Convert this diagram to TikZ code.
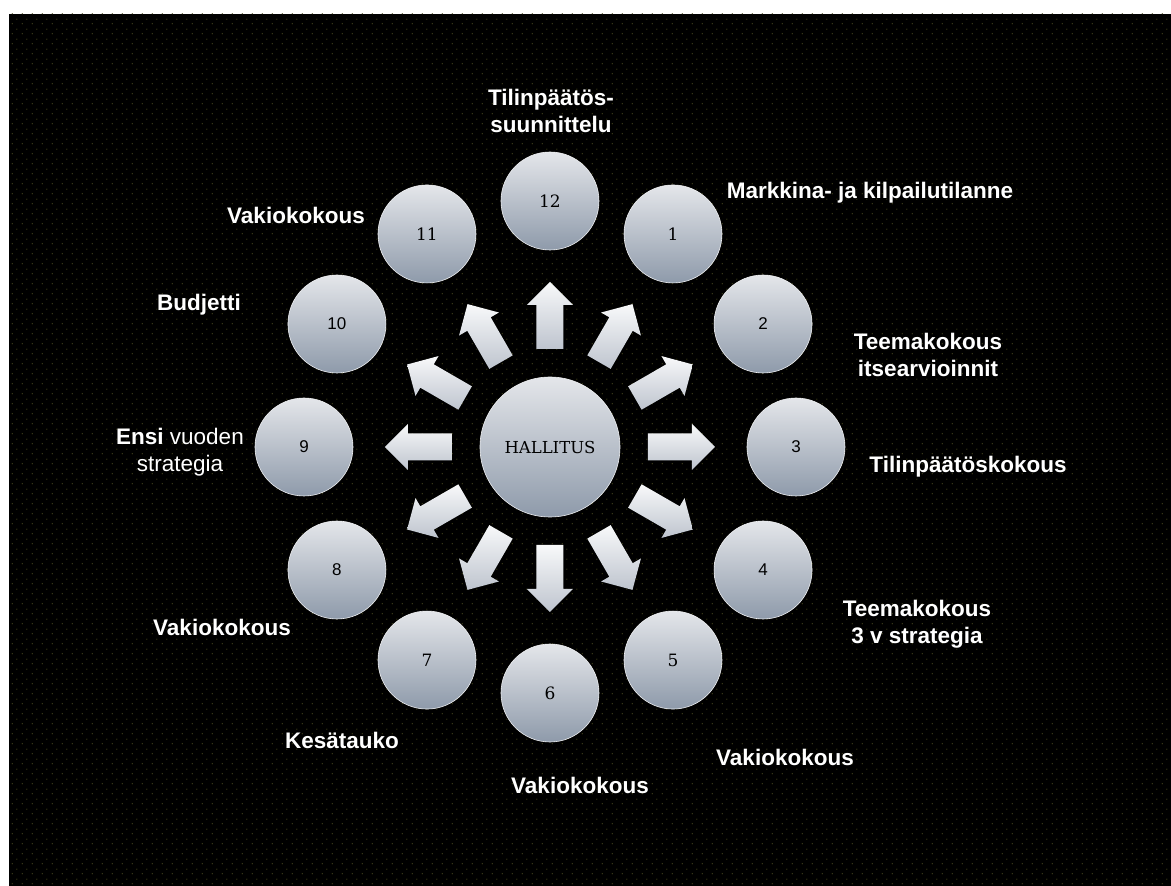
\documentclass[tikz,border=0pt]{standalone}
\usepackage{fontspec}
\newfontfamily\labelfont{Liberation Sans}
\newfontfamily\slabfont{DejaVu Serif}
\usepackage{tikz}
\usepackage{xcolor}
\usetikzlibrary{patterns.meta}
\definecolor{BG_Dot}{HTML}{4B4B1E}
\definecolor{Ball_Top}{HTML}{E4E6EA}
\definecolor{Ball_Mid}{HTML}{CBD0D8}
\definecolor{Ball_Bottom}{HTML}{8E9AAA}
\definecolor{Arrow_Top}{HTML}{F8F9FA}
\definecolor{Arrow_Bottom}{HTML}{BEC4CE}
\tikzdeclarepattern{
  name=bgdots,
  type=uncolored,
  bounding box={(0pt,0pt) and (10pt,10pt)},
  tile size={(10pt,10pt)},
  code={
    \pgfpathcircle{\pgfpoint{2.5pt}{2.5pt}}{0.7pt}
    \pgfpathcircle{\pgfpoint{7.5pt}{7.5pt}}{0.7pt}
    \pgfusepath{fill}
  }
}

\begin{document}
\begin{tikzpicture}[x=1pt, y=1pt,
    ball/.style={circle, minimum size=98pt, inner sep=0pt, top color=Ball_Top, middle color=Ball_Mid, bottom color=Ball_Bottom, draw=Ball_Top!60!white, line width=0.6pt},
    lbl/.style={text=white, align=center, font=\labelfont\bfseries\fontsize{22.5}{27}\selectfont}]
    % Page and dotted background
    \useasboundingbox (-550,-439) rectangle (621,447);
    \fill[white] (-550,-439) rectangle (621,447);
    \fill[black] (-541,-439) rectangle (621,433);
    \fill[pattern=bgdots, pattern color=BG_Dot] (-541,-439) rectangle (621,433);
    % Block arrows
    \foreach \a in {0,30,...,330}
        \shade[top color=Arrow_Top, bottom color=Arrow_Bottom, rotate=\a] (98,-13.5) -- (142,-13.5) -- (142,-23) -- (165,0) -- (142,23) -- (142,13.5) -- (98,13.5) -- cycle;
    % Hub
    \node[ball, minimum size=140pt, font=\slabfont\fontsize{16.5}{17}\selectfont] (hub) at (0,0) {HALLITUS};
    % Months
    \foreach \n/\f in {1/\slabfont, 2/\labelfont, 3/\labelfont, 4/\labelfont, 5/\slabfont, 6/\slabfont, 7/\slabfont, 8/\labelfont, 9/\labelfont, 10/\labelfont, 11/\slabfont, 12/\slabfont}
        \node[ball, font=\f\fontsize{17}{17}\selectfont] (m\n) at ({90-30*\n}:246) {\n};
    % Labels
    \node[lbl] (t12) at (1,336) {Tilinpäätös-\\suunnittelu};
    \node[lbl] (t1) at (320,254) {Markkina- ja kilpailutilanne};
    \node[lbl] (t2) at (378,92) {Teemakokous\\itsearvioinnit};
    \node[lbl] (t3) at (418,-20) {Tilinpäätöskokous};
    \node[lbl] (t4) at (367,-177) {Teemakokous\\3 v strategia};
    \node[lbl] (t5) at (235,-310) {Vakiokokous};
    \node[lbl] (t6) at (30,-338) {Vakiokokous};
    \node[lbl] (t7) at (-208,-293) {Kesätauko};
    \node[lbl] (t8) at (-328,-180) {Vakiokokous};
    \node[lbl, font=\labelfont\fontsize{22.5}{27}\selectfont] (t9) at (-370,-5) {\textbf{Ensi} vuoden\\strategia};
    \node[lbl] (t10) at (-351,142) {Budjetti};
    \node[lbl] (t11) at (-254,232) {Vakiokokous};
\end{tikzpicture}
\end{document}
